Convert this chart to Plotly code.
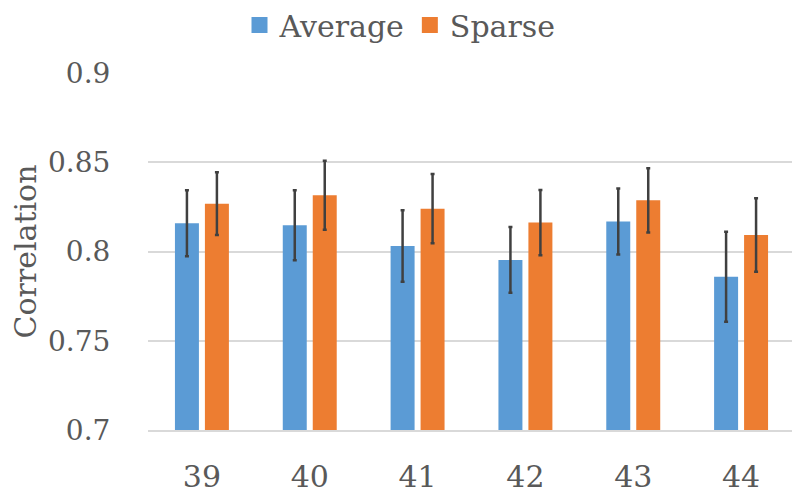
import plotly.graph_objects as go

categories = ["39", "40", "41", "42", "43", "44"]
average = [0.8158, 0.8147, 0.8031, 0.7953, 0.8168, 0.7858]
average_err = [0.0185, 0.0196, 0.0200, 0.0184, 0.0185, 0.0252]
sparse = [0.8268, 0.8315, 0.8240, 0.8162, 0.8287, 0.8093]
sparse_err = [0.0176, 0.0193, 0.0194, 0.0183, 0.0180, 0.0206]
y_ticks = [0.7, 0.75, 0.8, 0.85, 0.9]
y_tick_labels = ["0.7", "0.75", "0.8", "0.85", "0.9"]

FONT = "DejaVu Serif"
FS = 30
TXT = "#595959"
BLUE = "#5B9BD5"
ORANGE = "#ED7D31"

fig = go.Figure()
fig.add_trace(go.Bar(
    name="Average", x=categories, y=average, showlegend=False,
    marker=dict(color=BLUE, line=dict(width=0)),
    error_y=dict(type="data", array=average_err, visible=True,
                 color="#404040", thickness=2.5, width=2),
))
fig.add_trace(go.Bar(
    name="Sparse", x=categories, y=sparse, showlegend=False,
    marker=dict(color=ORANGE, line=dict(width=0)),
    error_y=dict(type="data", array=sparse_err, visible=True,
                 color="#404040", thickness=2.5, width=2),
))
# legend entries with larger square swatches
for name, col in (("Average", BLUE), ("Sparse", ORANGE)):
    fig.add_trace(go.Scatter(
        x=[None], y=[None], mode="markers", name=name,
        marker=dict(symbol="square", size=16, color=col, line=dict(width=0)),
    ))

# page body has an 8px margin, so the figure is offset by 8px
fig.update_layout(
    width=792, height=489,
    margin=dict(l=140, r=5, t=65, b=67, autoexpand=False),
    paper_bgcolor="white", plot_bgcolor="white",
    barmode="group", bargap=0.444, bargroupgap=0.2,
    font=dict(family=FONT, size=FS, color=TXT),
    legend=dict(
        orientation="h", xref="container", yref="container",
        x=392 / 792, xanchor="center", y=1 - 17 / 489, yanchor="middle",
        font=dict(family=FONT, size=FS, color=TXT),
        itemsizing="trace", itemwidth=30, tracegroupgap=0,
    ),
    showlegend=True,
)
fig.update_xaxes(
    type="category", showgrid=False, showline=True, automargin=False,
    linecolor="#D9D9D9", linewidth=1.5,
    ticks="outside", ticklen=19, tickcolor="rgba(0,0,0,0)",
    tickfont=dict(family=FONT, size=FS, color=TXT),
)
fig.update_yaxes(
    range=[0.7, 0.9], tickvals=y_ticks, ticktext=y_tick_labels,
    showgrid=True, gridcolor="#D9D9D9", gridwidth=1.5, automargin=False,
    zeroline=False, showline=False,
    ticks="outside", ticklen=31, tickcolor="rgba(0,0,0,0)",
    tickfont=dict(family=FONT, size=28, color=TXT),
    title=dict(text="Correlation", standoff=6,
               font=dict(family=FONT, size=FS, color=TXT)),
)

fig.write_html("out.html")
